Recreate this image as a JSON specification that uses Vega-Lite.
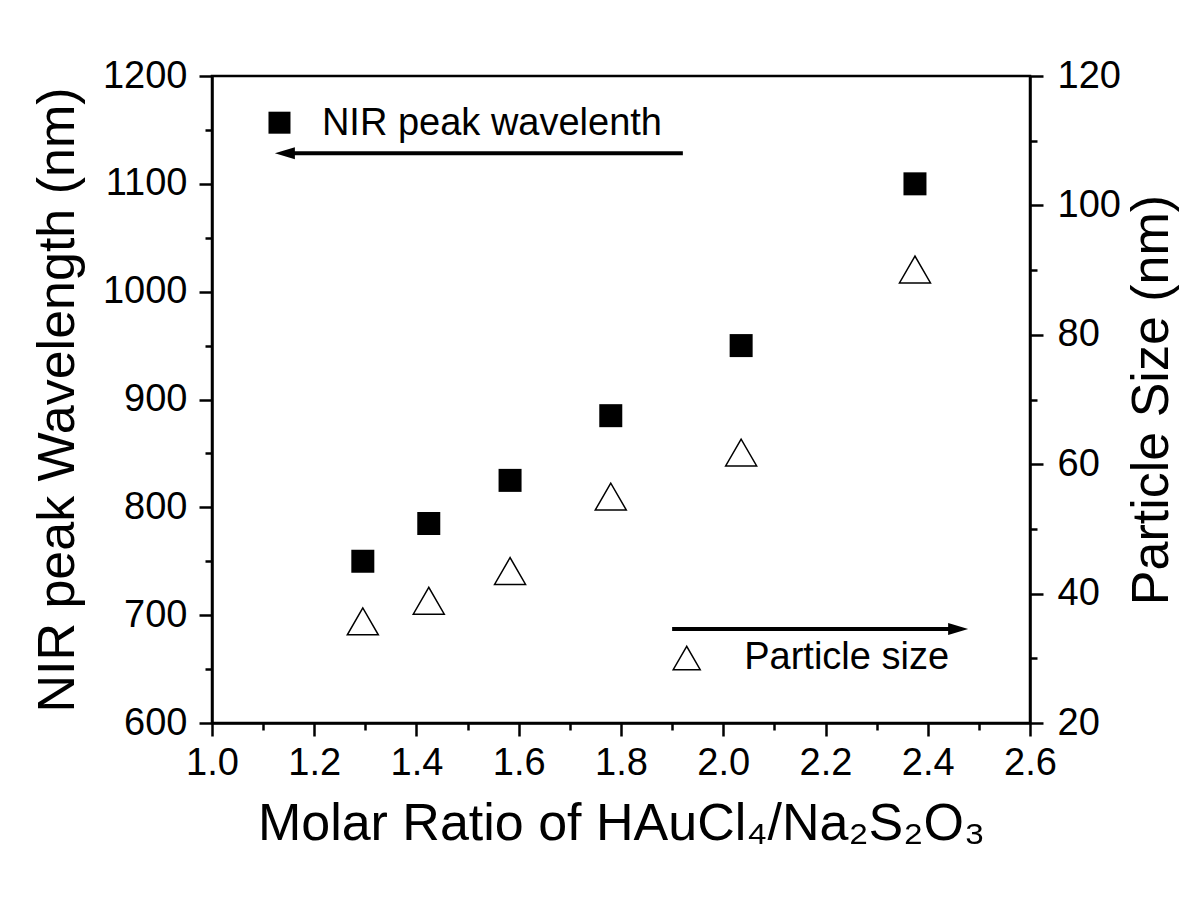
{
  "$schema": "https://vega.github.io/schema/vega-lite/v6.json",
  "width": 818,
  "height": 647,
  "autosize": {"type": "none"},
  "padding": {"left": 212, "top": 76, "right": 170, "bottom": 176},
  "background": "white",
  "config": {
    "font": "Liberation Sans",
    "view": {"stroke": "black", "strokeWidth": 2.5},
    "axis": {
      "grid": false,
      "domainColor": "black",
      "domainWidth": 2.5,
      "tickColor": "black",
      "tickWidth": 2.5,
      "labelColor": "black",
      "labelFont": "Liberation Sans",
      "labelFontSize": 38,
      "labelOverlap": false,
      "labelFlush": false,
      "titleColor": "black",
      "titleFont": "Liberation Sans",
      "titleFontSize": 52,
      "titleFontWeight": "normal"
    }
  },
  "datasets": {
    "nir": [
      {"x": 1.295, "y": 750},
      {"x": 1.424, "y": 785},
      {"x": 1.583, "y": 825},
      {"x": 1.780, "y": 885},
      {"x": 2.035, "y": 950},
      {"x": 2.375, "y": 1100}
    ],
    "size": [
      {"x": 1.295, "s": 35.7},
      {"x": 1.424, "s": 38.9},
      {"x": 1.583, "s": 43.5},
      {"x": 1.780, "s": 55.0},
      {"x": 2.035, "s": 61.8},
      {"x": 2.375, "s": 90.1}
    ],
    "arrows": [
      {"x": 1.143, "x2": 1.921, "y": 1128.3},
      {"x": 1.900, "x2": 2.459, "y": 687.2}
    ],
    "heads": [
      {"x": 1.123, "y": 1128.3, "dir": "left"},
      {"x": 2.479, "y": 687.2, "dir": "right"}
    ],
    "sqlegend": [{"x": 1.132, "y": 1156.7}],
    "trilegend": [{"x": 1.9285, "y": 660.3}],
    "notes": [
      {"x": 1.215, "y": 1145.3, "label": "NIR peak wavelenth"},
      {"x": 2.041, "y": 650.1, "label": "Particle size"}
    ]
  },
  "encoding": {
    "x": {
      "field": "x",
      "type": "quantitative",
      "scale": {"domain": [1.0, 2.6], "nice": false, "zero": false},
      "axis": {
        "title": "Molar Ratio of HAuCl₄/Na₂S₂O₃",
        "values": [1.0, 1.1, 1.2, 1.3, 1.4, 1.5, 1.6, 1.7, 1.8, 1.9, 2.0, 2.1, 2.2, 2.3, 2.4, 2.5, 2.6],
        "format": ".1f",
        "labelExpr": "round(datum.value*10)%2==0 ? datum.label : ''",
        "tickSize": {"condition": {"test": "round(datum.value*10)%2==0", "value": 13}, "value": 7},
        "labelPadding": 8,
        "titlePadding": 16
      }
    }
  },
  "layer": [
    {
      "encoding": {
        "y": {
          "field": "y",
          "type": "quantitative",
          "scale": {"domain": [600, 1200], "nice": false, "zero": false},
          "axis": {
            "orient": "left",
            "title": "NIR peak Wavelength (nm)",
            "values": [600, 650, 700, 750, 800, 850, 900, 950, 1000, 1050, 1100, 1150, 1200],
            "labelExpr": "datum.value%100==0 ? datum.label : ''",
            "format": "d",
            "tickSize": {"condition": {"test": "datum.value%100==0", "value": 13}, "value": 7},
            "labelPadding": 12,
            "titlePadding": 18
          }
        }
      },
      "layer": [
        {
          "data": {"name": "nir"},
          "mark": {"type": "point", "shape": "square", "filled": true, "color": "black", "size": 529, "opacity": 1}
        },
        {
          "data": {"name": "arrows"},
          "mark": {"type": "rule", "color": "black", "strokeWidth": 4},
          "encoding": {"x2": {"field": "x2"}}
        },
        {
          "data": {"name": "heads"},
          "mark": {"type": "point", "filled": true, "color": "black", "size": 100, "opacity": 1},
          "encoding": {
            "shape": {
              "field": "dir",
              "type": "nominal",
              "scale": {"domain": ["left", "right"], "range": ["M0,0L4,-1.2L4,1.2Z", "M0,0L-4,-1.2L-4,1.2Z"]},
              "legend": null
            }
          }
        },
        {
          "data": {"name": "sqlegend"},
          "mark": {"type": "point", "shape": "square", "filled": true, "color": "black", "size": 484, "opacity": 1}
        },
        {
          "data": {"name": "trilegend"},
          "mark": {"type": "point", "shape": "triangle-up", "filled": false, "stroke": "black", "fill": "white", "strokeWidth": 1.5, "size": 729, "opacity": 1}
        },
        {
          "data": {"name": "notes"},
          "mark": {"type": "text", "align": "left", "baseline": "alphabetic", "fontSize": 38, "font": "Liberation Sans", "color": "black"},
          "encoding": {"text": {"field": "label"}}
        }
      ]
    },
    {
      "data": {"name": "size"},
      "mark": {"type": "point", "shape": "triangle-up", "filled": false, "stroke": "black", "fill": "white", "strokeWidth": 1.5, "size": 961, "opacity": 1},
      "encoding": {
        "y": {
          "field": "s",
          "type": "quantitative",
          "scale": {"domain": [20, 120], "nice": false, "zero": false},
          "axis": {
            "orient": "right",
            "title": "Particle Size (nm)",
            "titleAngle": 270,
            "titleBaseline": "top",
            "values": [20, 30, 40, 50, 60, 70, 80, 90, 100, 110, 120],
            "labelExpr": "datum.value%20==0 ? datum.label : ''",
            "format": "d",
            "tickSize": {"condition": {"test": "datum.value%20==0", "value": 13}, "value": 7},
            "labelPadding": 14,
            "titlePadding": 6
          }
        }
      }
    }
  ],
  "resolve": {"scale": {"y": "independent"}}
}
